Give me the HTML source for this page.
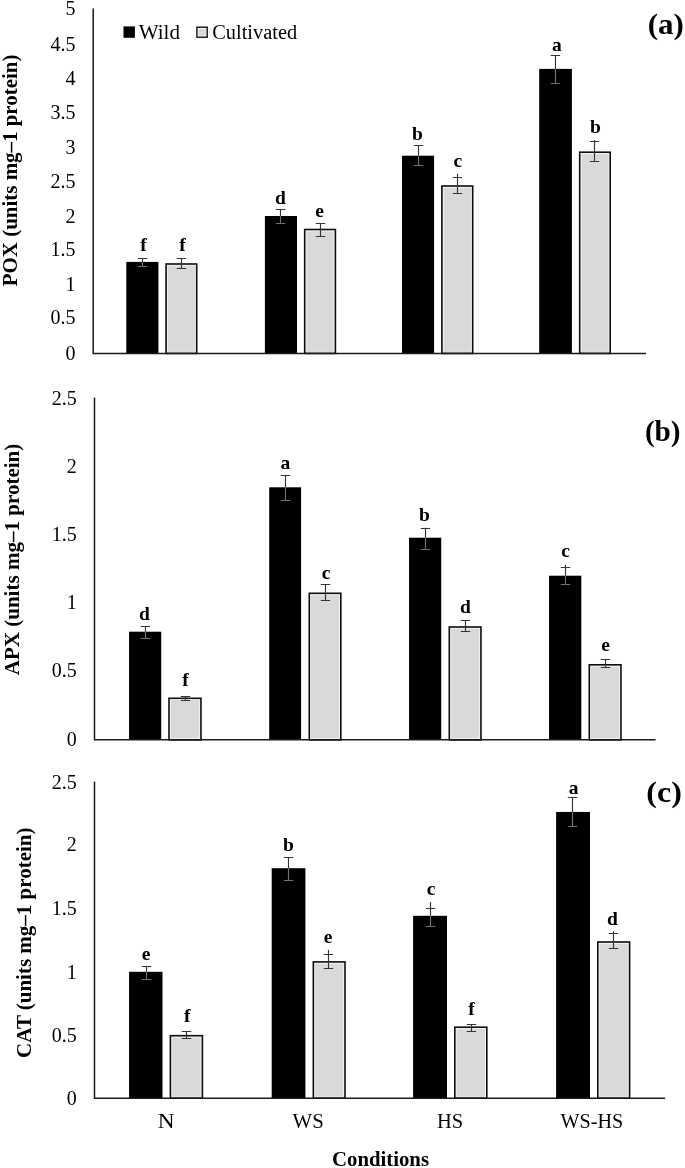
<!DOCTYPE html>
<html lang="en">
<head>
<meta charset="utf-8">
<title>Enzyme activity charts</title>
<style>
html,body{margin:0;padding:0;background:#fff;}
body{width:685px;height:1168px;overflow:hidden;font-family:"Liberation Serif",serif;}
svg{display:block;}
#wrap{width:685px;height:1168px;will-change:transform;transform:translateZ(0);}
</style>
</head>
<body>
<div id="wrap">
<svg width="685" height="1168" viewBox="0 0 685 1168">
<rect x="0" y="0" width="685" height="1168" fill="#fff"/>
<g>
<rect x="126.3" y="261.9" width="32.1" height="91.5" fill="#000"/>
<rect x="166.1" y="264" width="30.6" height="89.4" fill="#f3f3f3" stroke="#0d0d0d" stroke-width="1.6"/>
<rect x="167.9" y="265.8" width="27" height="86" fill="#d9d9d9"/>
<rect x="264.9" y="216" width="32.1" height="137.4" fill="#000"/>
<rect x="304.7" y="229.5" width="30.7" height="123.9" fill="#f3f3f3" stroke="#0d0d0d" stroke-width="1.6"/>
<rect x="306.5" y="231.3" width="27.1" height="120.5" fill="#d9d9d9"/>
<rect x="402" y="155.7" width="32.1" height="197.7" fill="#000"/>
<rect x="441.9" y="186" width="30.8" height="167.4" fill="#f3f3f3" stroke="#0d0d0d" stroke-width="1.6"/>
<rect x="443.7" y="187.8" width="27.2" height="164" fill="#d9d9d9"/>
<rect x="539.2" y="68.9" width="32.7" height="284.5" fill="#000"/>
<rect x="579.7" y="152.2" width="30.5" height="201.2" fill="#f3f3f3" stroke="#0d0d0d" stroke-width="1.6"/>
<rect x="581.5" y="154" width="26.9" height="197.8" fill="#d9d9d9"/>
</g>
<path d="M93.2 9.3 V353.4 H645.3" fill="none" stroke="#1a1a1a" stroke-width="1.5" stroke-linecap="square"/>
<g stroke-width="1.15" fill="none">
<path stroke="#343434" d="M142.5 258 V261.9 M137.8 258.5 H147.2"/>
<path stroke="#727272" d="M142.5 261.9 V266.5 M137.8 266.5 H147.2"/>
<path stroke="#343434" d="M181.5 258 V268.5 M176.8 258.5 H186.2 M176.8 268.5 H186.2"/>
<path stroke="#343434" d="M280.5 209.1 V216 M275.8 209.5 H285.2"/>
<path stroke="#727272" d="M280.5 216 V223.5 M275.8 223.5 H285.2"/>
<path stroke="#343434" d="M320.5 223.3 V236.5 M315.8 223.5 H325.2 M315.8 236.5 H325.2"/>
<path stroke="#343434" d="M418.5 145.9 V155.7 M413.8 145.5 H423.2"/>
<path stroke="#727272" d="M418.5 155.7 V165.5 M413.8 165.5 H423.2"/>
<path stroke="#343434" d="M457.5 173.8 V193.5 M452.8 177.5 H462.2 M452.8 193.5 H462.2"/>
<path stroke="#343434" d="M555.5 55.2 V68.9 M550.8 55.5 H560.2"/>
<path stroke="#727272" d="M555.5 68.9 V83.5 M550.8 83.5 H560.2"/>
<path stroke="#343434" d="M594.5 140 V161.5 M589.8 141.5 H599.2 M589.8 161.5 H599.2"/>
</g>
<g font-family='"Liberation Serif", serif' font-size="20" fill="#000" text-anchor="end">
<text x="75.6" y="360">0</text>
<text x="75.6" y="324.49">0.5</text>
<text x="75.6" y="291.18">1</text>
<text x="75.6" y="255.97">1.5</text>
<text x="75.6" y="223.16">2</text>
<text x="75.6" y="187.95">2.5</text>
<text x="75.6" y="153.84">3</text>
<text x="75.6" y="119.13">3.5</text>
<text x="75.6" y="85.12">4</text>
<text x="75.6" y="50.91">4.5</text>
<text x="75.6" y="15">5</text>
</g>
<g font-family='"Liberation Serif", serif' font-size="19.5" font-weight="bold" fill="#000" text-anchor="middle">
<text x="143.5" y="250.8">f</text>
<text x="182.6" y="250.8">f</text>
<text x="280.5" y="204.3">d</text>
<text x="319.6" y="216.7">e</text>
<text x="417.5" y="139.6">b</text>
<text x="457.9" y="167.2">c</text>
<text x="556.8" y="51.4">a</text>
<text x="595.5" y="132.7">b</text>
</g>
<text transform="translate(16.65 170.4) rotate(-90)" font-family='"Liberation Serif", serif' font-size="20" font-weight="bold" fill="#000" text-anchor="middle" textLength="231.6" lengthAdjust="spacingAndGlyphs">POX (units mg–1 protein)</text>
<text x="647.7" y="33.7" font-family='"Liberation Serif", serif' font-size="29" font-weight="bold" fill="#000" textLength="36.2" lengthAdjust="spacingAndGlyphs">(a)</text>
<g>
<rect x="129.05" y="631.7" width="32.15" height="108.15" fill="#000"/>
<rect x="169" y="698.3" width="31.95" height="41.55" fill="#f3f3f3" stroke="#0d0d0d" stroke-width="1.6"/>
<rect x="170.8" y="700.1" width="28.35" height="38.15" fill="#d9d9d9"/>
<rect x="269.2" y="487.3" width="31.9" height="252.55" fill="#000"/>
<rect x="309.3" y="593.3" width="31.5" height="146.55" fill="#f3f3f3" stroke="#0d0d0d" stroke-width="1.6"/>
<rect x="311.1" y="595.1" width="27.9" height="143.15" fill="#d9d9d9"/>
<rect x="409.05" y="537.7" width="32.15" height="202.15" fill="#000"/>
<rect x="449.3" y="627" width="31.65" height="112.85" fill="#f3f3f3" stroke="#0d0d0d" stroke-width="1.6"/>
<rect x="451.1" y="628.8" width="28.05" height="109.45" fill="#d9d9d9"/>
<rect x="549.05" y="575.7" width="32.25" height="164.15" fill="#000"/>
<rect x="589.3" y="664.8" width="31.65" height="75.05" fill="#f3f3f3" stroke="#0d0d0d" stroke-width="1.6"/>
<rect x="591.1" y="666.6" width="28.05" height="71.65" fill="#d9d9d9"/>
</g>
<path d="M94.5 398.2 V739.85 H654.8" fill="none" stroke="#1a1a1a" stroke-width="1.5" stroke-linecap="square"/>
<g stroke-width="1.15" fill="none">
<path stroke="#343434" d="M145.5 626.6 V631.7 M140.8 626.5 H150.2"/>
<path stroke="#727272" d="M145.5 631.7 V638.5 M140.8 638.5 H150.2"/>
<path stroke="#343434" d="M185.5 696.6 V700.5 M180.8 696.5 H190.2 M180.8 700.5 H190.2"/>
<path stroke="#343434" d="M285.5 475.4 V487.3 M280.8 475.5 H290.2"/>
<path stroke="#727272" d="M285.5 487.3 V500.5 M280.8 500.5 H290.2"/>
<path stroke="#343434" d="M325.5 584.4 V600.5 M320.8 584.5 H330.2 M320.8 600.5 H330.2"/>
<path stroke="#343434" d="M425.5 527.7 V537.7 M420.8 528.5 H430.2"/>
<path stroke="#727272" d="M425.5 537.7 V549.5 M420.8 549.5 H430.2"/>
<path stroke="#343434" d="M465.5 620.9 V631.5 M460.8 620.5 H470.2 M460.8 631.5 H470.2"/>
<path stroke="#343434" d="M565.5 564.7 V575.7 M560.8 567.5 H570.2"/>
<path stroke="#727272" d="M565.5 575.7 V584.5 M560.8 584.5 H570.2"/>
<path stroke="#343434" d="M605.5 659.9 V667.5 M600.8 659.5 H610.2 M600.8 667.5 H610.2"/>
</g>
<g font-family='"Liberation Serif", serif' font-size="20" fill="#000" text-anchor="end">
<text x="76.7" y="746.45">0</text>
<text x="76.7" y="677.32">0.5</text>
<text x="76.7" y="608.59">1</text>
<text x="76.7" y="541.46">1.5</text>
<text x="76.7" y="473.13">2</text>
<text x="76.7" y="404.8">2.5</text>
</g>
<g font-family='"Liberation Serif", serif' font-size="19.5" font-weight="bold" fill="#000" text-anchor="middle">
<text x="144.5" y="619.7">d</text>
<text x="185.5" y="686.1">f</text>
<text x="285.4" y="468.8">a</text>
<text x="326.2" y="579.4">c</text>
<text x="424.5" y="520.7">b</text>
<text x="465.5" y="613.4">d</text>
<text x="565.5" y="557">c</text>
<text x="605.6" y="650.9">e</text>
</g>
<text transform="translate(19.4 559.5) rotate(-90)" font-family='"Liberation Serif", serif' font-size="20" font-weight="bold" fill="#000" text-anchor="middle" textLength="231.6" lengthAdjust="spacingAndGlyphs">APX (units mg–1 protein)</text>
<text x="644.9" y="440.8" font-family='"Liberation Serif", serif' font-size="29" font-weight="bold" fill="#000" textLength="35.7" lengthAdjust="spacingAndGlyphs">(b)</text>
<g>
<rect x="129.05" y="971.8" width="33.45" height="126.4" fill="#000"/>
<rect x="170.4" y="1035.7" width="32" height="62.5" fill="#f3f3f3" stroke="#0d0d0d" stroke-width="1.6"/>
<rect x="172.2" y="1037.5" width="28.4" height="59.1" fill="#d9d9d9"/>
<rect x="271.7" y="868.2" width="33.7" height="230" fill="#000"/>
<rect x="313.35" y="961.9" width="31.65" height="136.3" fill="#f3f3f3" stroke="#0d0d0d" stroke-width="1.6"/>
<rect x="315.15" y="963.7" width="28.05" height="132.9" fill="#d9d9d9"/>
<rect x="413.1" y="915.8" width="33.9" height="182.4" fill="#000"/>
<rect x="454.8" y="1027.2" width="32" height="71" fill="#f3f3f3" stroke="#0d0d0d" stroke-width="1.6"/>
<rect x="456.6" y="1029" width="28.4" height="67.6" fill="#d9d9d9"/>
<rect x="556.1" y="811.95" width="33.9" height="286.25" fill="#000"/>
<rect x="597.8" y="942" width="31.8" height="156.2" fill="#f3f3f3" stroke="#0d0d0d" stroke-width="1.6"/>
<rect x="599.6" y="943.8" width="28.2" height="152.8" fill="#d9d9d9"/>
</g>
<path d="M94.5 782.2 V1098.2 H664.3" fill="none" stroke="#1a1a1a" stroke-width="1.5" stroke-linecap="square"/>
<g stroke-width="1.15" fill="none">
<path stroke="#343434" d="M146.5 966.7 V971.8 M141.8 966.5 H151.2"/>
<path stroke="#727272" d="M146.5 971.8 V979.5 M141.8 979.5 H151.2"/>
<path stroke="#343434" d="M186.5 1031.5 V1038.5 M181.8 1031.5 H191.2 M181.8 1038.5 H191.2"/>
<path stroke="#343434" d="M288.5 857.3 V868.2 M283.8 857.5 H293.2"/>
<path stroke="#727272" d="M288.5 868.2 V880.5 M283.8 880.5 H293.2"/>
<path stroke="#343434" d="M328.5 949.7 V968.5 M323.8 954.5 H333.2 M323.8 968.5 H333.2"/>
<path stroke="#343434" d="M430.5 901.9 V915.8 M425.8 908.5 H435.2"/>
<path stroke="#727272" d="M430.5 915.8 V926.5 M425.8 926.5 H435.2"/>
<path stroke="#343434" d="M471.5 1024.2 V1031.5 M466.8 1024.5 H476.2 M466.8 1031.5 H476.2"/>
<path stroke="#343434" d="M572.5 797.4 V811.95 M567.8 797.5 H577.2"/>
<path stroke="#727272" d="M572.5 811.95 V826.5 M567.8 826.5 H577.2"/>
<path stroke="#343434" d="M613.5 931.3 V948.5 M608.8 933.5 H618.2 M608.8 948.5 H618.2"/>
</g>
<g font-family='"Liberation Serif", serif' font-size="20" fill="#000" text-anchor="end">
<text x="76.7" y="1104.8">0</text>
<text x="76.7" y="1041.6">0.5</text>
<text x="76.7" y="979.2">1</text>
<text x="76.7" y="914.6">1.5</text>
<text x="76.7" y="851">2</text>
<text x="76.7" y="788.5">2.5</text>
</g>
<g font-family='"Liberation Serif", serif' font-size="19.5" font-weight="bold" fill="#000" text-anchor="middle">
<text x="146" y="960">e</text>
<text x="187.3" y="1021.8">f</text>
<text x="288.5" y="850.9">b</text>
<text x="328" y="943.4">e</text>
<text x="431.1" y="894.6">c</text>
<text x="471.4" y="1014.6">f</text>
<text x="573.5" y="793.6">a</text>
<text x="612.5" y="925.3">d</text>
</g>
<text transform="translate(30.5 942.7) rotate(-90)" font-family='"Liberation Serif", serif' font-size="20" font-weight="bold" fill="#000" text-anchor="middle" textLength="230.4" lengthAdjust="spacingAndGlyphs">CAT (units mg–1 protein)</text>
<text x="646.3" y="802.3" font-family='"Liberation Serif", serif' font-size="29" font-weight="bold" fill="#000" textLength="35.5" lengthAdjust="spacingAndGlyphs">(c)</text>
<rect x="123.5" y="26.4" width="11.4" height="11.4" fill="#000"/>
<rect x="196.9" y="27.2" width="10.3" height="10.0" fill="#fff" stroke="#0d0d0d" stroke-width="1.4"/>
<rect x="198.4" y="28.7" width="7.3" height="7.0" fill="#d9d9d9"/>
<g font-family='"Liberation Serif", serif' font-size="20" fill="#000">
<text x="138.7" y="38.8" textLength="41.3" lengthAdjust="spacingAndGlyphs">Wild</text>
<text x="212.3" y="38.8" textLength="84.8" lengthAdjust="spacingAndGlyphs">Cultivated</text>
</g>
<g font-family='"Liberation Serif", serif' font-size="20" fill="#000" text-anchor="middle">
<text x="166.1" y="1128.4" textLength="16.8" lengthAdjust="spacingAndGlyphs">N</text>
<text x="308.2" y="1128.4" textLength="31.2" lengthAdjust="spacingAndGlyphs">WS</text>
<text x="450" y="1128.4" textLength="26.2" lengthAdjust="spacingAndGlyphs">HS</text>
<text x="591.8" y="1128.4" textLength="62.6" lengthAdjust="spacingAndGlyphs">WS-HS</text>
</g>
<text x="380.5" y="1166" font-family='"Liberation Serif", serif' font-size="20" font-weight="bold" fill="#000" text-anchor="middle" textLength="97" lengthAdjust="spacingAndGlyphs">Conditions</text>
</svg>
</div>
</body>
</html>
